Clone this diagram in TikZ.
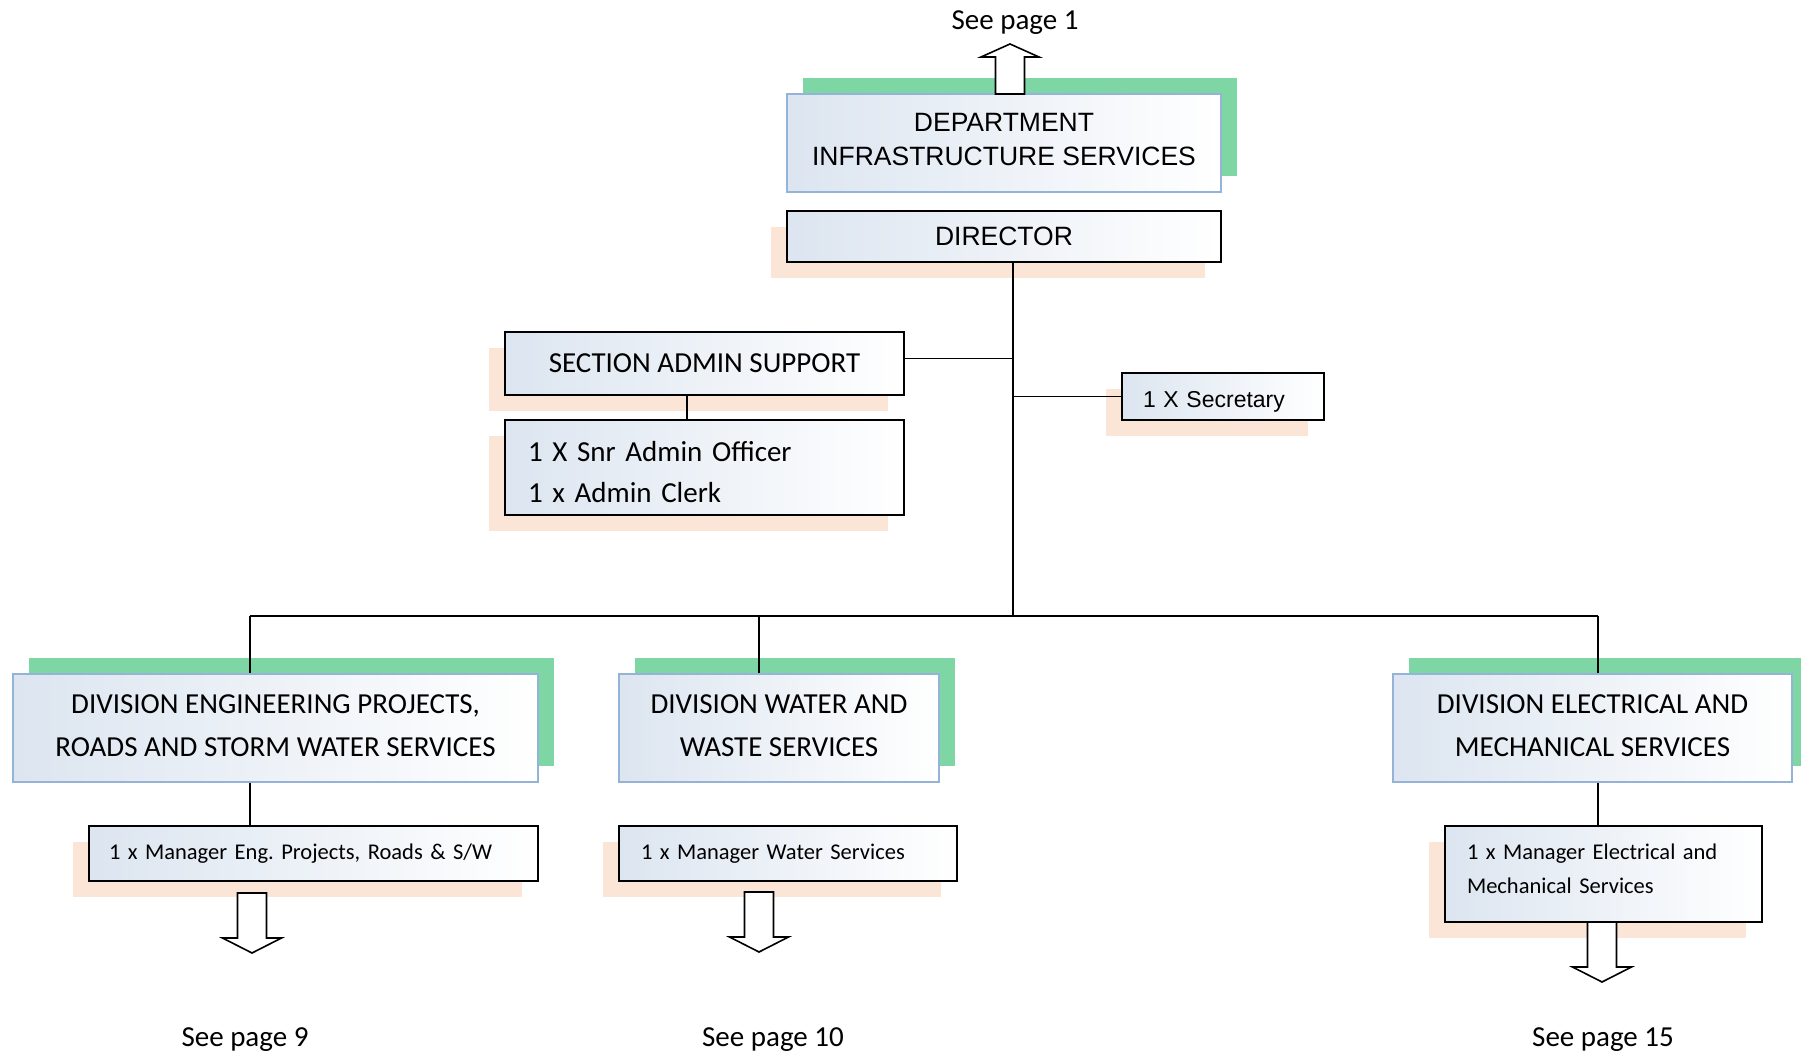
\documentclass[tikz,border=0pt]{standalone}
\usepackage{fontspec}
\setmainfont{Carlito}
\newfontfamily\arialfont{Liberation Sans}
\usetikzlibrary{shadows}
\frenchspacing

\definecolor{shadowgreen}{RGB}{127,214,165}
\definecolor{shadowpeach}{RGB}{251,229,214}
\definecolor{boxblue}{RGB}{149,179,215}
\definecolor{boxtint}{RGB}{220,229,240}

\newcommand\bigtext{\fontsize{29}{43}\selectfont}
\newcommand\smalltext{\fontsize{22.5}{34}\selectfont}
\newcommand\headtext{\arialfont\fontsize{26.5}{34}\selectfont}

\tikzset{
    greenbox/.style={draw=boxblue, line width=1.8pt, left color=boxtint, right color=white,
        general shadow={fill=shadowgreen, shadow xshift=16pt, shadow yshift=16pt},
        inner sep=0pt, align=center},
    peachbox/.style={draw=black, line width=2pt, left color=boxtint, right color=white,
        general shadow={fill=shadowpeach, shadow xshift=-16pt, shadow yshift=-16pt},
        inner sep=0pt},
    link/.style={line width=1.6pt},
    pagearrow/.style={draw=black, fill=white, line width=1.6pt}
}

\begin{document}
\begin{tikzpicture}[x=1pt, y=-1pt]
    \useasboundingbox (0,0) rectangle (1801,1056);

    % top of the chart
    \node[greenbox, minimum width=434pt, minimum height=98pt, font=\headtext] (dept) at (1004,143) {DEPARTMENT\\INFRASTRUCTURE SERVICES\rule[-8pt]{0pt}{0pt}};
    \node[peachbox, minimum width=434pt, minimum height=51pt, font=\headtext] (director) at (1004,236.5) {DIRECTOR};

    % admin support and secretary
    \node[peachbox, minimum width=399pt, minimum height=63pt, font=\bigtext] (admin) at (704.5,363.5) {SECTION ADMIN SUPPORT};
    \node[peachbox, minimum width=399pt, minimum height=95pt, text width=353pt, align=left, font=\fontsize{29}{41}\selectfont] (adminstaff) at (704.5,467.5) {\rule{0pt}{28.5pt}1 X Snr Admin Officer\\1 x Admin Clerk};
    \node[peachbox, minimum width=202pt, minimum height=47pt, text width=160pt, align=left, font=\arialfont\fontsize{23}{30}\selectfont] (secretary) at (1223,396.5) {\rule{0pt}{26.5pt}1 X Secretary};

    % divisions
    \node[greenbox, minimum width=525pt, minimum height=108pt, font=\bigtext] (diveng) at (275.5,728) {DIVISION ENGINEERING PROJECTS,\\ROADS AND STORM WATER SERVICES\rule[-4pt]{0pt}{0pt}};
    \node[greenbox, minimum width=320pt, minimum height=108pt, font=\bigtext] (divwater) at (779,728) {DIVISION WATER AND\\WASTE SERVICES\rule[-4pt]{0pt}{0pt}};
    \node[greenbox, minimum width=399pt, minimum height=108pt, font=\bigtext] (divelec) at (1592.5,728) {DIVISION ELECTRICAL AND\\MECHANICAL SERVICES\rule[-4pt]{0pt}{0pt}};

    % managers
    \node[peachbox, minimum width=449pt, minimum height=55pt, text width=409pt, align=left, font=\smalltext] (mgreng) at (313.5,853.5) {1 x Manager Eng. Projects, Roads \& S/W};
    \node[peachbox, minimum width=338pt, minimum height=55pt, text width=294pt, align=left, font=\smalltext] (mgrwater) at (788,853.5) {1 x Manager Water Services};
    \node[peachbox, minimum width=317pt, minimum height=96pt, text width=273pt, align=left, font=\smalltext] (mgrelec) at (1603.5,874) {1 x Manager Electrical and\\Mechanical Services\rule[-10pt]{0pt}{0pt}};

    % connectors
    \coordinate (bus) at (1013,616);
    \coordinate (busL) at (250,616);
    \coordinate (busM) at (759,616);
    \coordinate (busR) at (1598,616);
    \coordinate (stafflink) at (687,400);

    \draw[link] (director.south -| bus) -- (bus);
    \draw[link] ([yshift=5pt]admin.east) -- ([yshift=5pt]admin.east -| bus);
    \draw[link] (secretary.west) -- (secretary.west -| bus);
    \draw[link] (stafflink |- admin.south) -- (stafflink |- adminstaff.north);
    \draw[link] (busL) -- (busR);
    \draw[link] (busL) -- (busL |- diveng.north);
    \draw[link] (busM) -- (busM |- divwater.north);
    \draw[link] (busR) -- (busR |- divelec.north);
    \draw[link] (busL |- diveng.south) -- (busL |- mgreng.north);
    \draw[link] (busR |- divelec.south) -- (busR |- mgrelec.north);

    % page arrows
    \draw[pagearrow] (995.5,94) -- (995.5,57) -- (981,57) -- (1010,44) -- (1039,57) -- (1024.5,57) -- (1024.5,94) -- cycle;
    \foreach \ax/\ay in {252/893, 759/892, 1602/922} {
        \draw[pagearrow] (\ax-14.5,\ay) -- (\ax+14.5,\ay) -- (\ax+14.5,\ay+45) -- (\ax+29.5,\ay+45)
            -- (\ax,\ay+60) -- (\ax-29.5,\ay+45) -- (\ax-14.5,\ay+45) -- cycle;
    }

    \node[font=\bigtext] (see1) at (1015,23) {See page 1};
    \node[font=\bigtext] (see9) at (245,1040) {See page 9};
    \node[font=\bigtext] (see10) at (773,1040) {See page 10};
    \node[font=\bigtext] (see15) at (1603,1040) {See page 15};
\end{tikzpicture}
\end{document}
